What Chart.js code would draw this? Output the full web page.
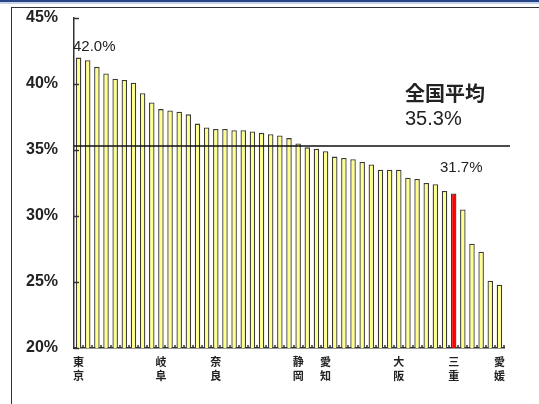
<!DOCTYPE html>
<html>
<head>
<meta charset="utf-8">
<script src="https://cdn.jsdelivr.net/npm/chart.js@4/dist/chart.umd.min.js"></script>
<style>
  html, body { margin: 0; padding: 0; background: #fff; }
  #wrap { position: relative; width: 539px; height: 404px; overflow: hidden; }
  /* marco de la diapositiva */
  #banda { position: absolute; left: 0; top: 0; width: 539px; height: 2px; background: #27458a; }
  #banda2 { position: absolute; left: 0; top: 2px; width: 539px; height: 2px; background: #c9d3e6; }
  #marco { position: absolute; left: 11px; top: 7px; width: 540px; height: 410px;
           border-left: 1.5px solid #333; border-top: 1.5px solid #333; }
  canvas { position: absolute; left: 0; top: 0; }
</style>
</head>
<body>
<div id="wrap">
  <div id="banda"></div>
  <div id="banda2"></div>
  <div id="marco"></div>
  <canvas id="myChart" width="539" height="404"></canvas>
</div>
<script>
// prefecturas ordenadas de mayor a menor
var etiquetas = [
  ['東','京'], '', '', '', '', '', '', '', '', ['岐','阜'],
  '', '', '', '', '', ['奈','良'], '', '', '', '',
  '', '', '', '', ['静','岡'], '', '', ['愛','知'], '', '',
  '', '', '', '', '', ['大','阪'], '', '', '', '',
  '', ['三','重'], '', '', '', '', ['愛','媛']
];
var valores = [
  42.0, 41.8, 41.3, 40.8, 40.4, 40.3, 40.1, 39.3, 38.6, 38.1,
  38.0, 37.9, 37.7, 37.0, 36.7, 36.6, 36.6, 36.5, 36.5, 36.4,
  36.3, 36.2, 36.1, 35.9, 35.5, 35.2, 35.1, 34.9, 34.5, 34.4,
  34.3, 34.1, 33.9, 33.5, 33.5, 33.5, 32.9, 32.8, 32.5, 32.4,
  31.9, 31.7, 30.5, 27.9, 27.3, 25.1, 24.8
];
var promedio = 35.3;      // 全国平均
var marcado = 41;         // 三重
var ticksY = [20, 25, 30, 35, 40, 45];

var colores = valores.map(function(v, i) { return i == marcado ? '#ff0000' : '#ffff8c'; });

// linea del promedio, marcas interiores y textos
var extras = {
  id: 'extras',
  afterDatasetsDraw: function(chart) {
    var ctx = chart.ctx;
    var a = chart.chartArea;
    var y = chart.scales.y;
    ctx.save();
    ctx.strokeStyle = '#333';
    ctx.lineWidth = 1.5;
    ticksY.forEach(function(t) {
      var py = Math.round(y.getPixelForValue(t)) + 0.5;
      ctx.beginPath(); ctx.moveTo(a.left, py); ctx.lineTo(a.left + 5, py); ctx.stroke();
    });
    for (var i = 1; i <= valores.length; i++) {
      var px = Math.round(a.left + (a.right - a.left) * i / valores.length);
      ctx.beginPath(); ctx.moveTo(px, a.bottom); ctx.lineTo(px, a.bottom - 3); ctx.stroke();
    }
    var py = y.getPixelForValue(promedio);
    ctx.strokeStyle = '#111';
    ctx.lineWidth = 1.6;
    ctx.beginPath(); ctx.moveTo(a.left, py); ctx.lineTo(a.right + 6, py); ctx.stroke();

    ctx.fillStyle = '#222';
    ctx.textBaseline = 'alphabetic';
    ctx.font = '15px "Liberation Sans", Arial, sans-serif';
    ctx.fillText(valores[0].toFixed(1) + '%', a.left - 1, 51);
    ctx.font = 'bold 20px "Noto Sans CJK JP", sans-serif';
    ctx.fillText('全国平均', 405, 101);
    ctx.font = '20px "Liberation Sans", Arial, sans-serif';
    ctx.fillText(promedio.toFixed(1) + '%', 405, 125);
    ctx.font = '15px "Liberation Sans", Arial, sans-serif';
    ctx.fillText(valores[marcado].toFixed(1) + '%', 440, 172);
    ctx.restore();
  }
};

var ctx = document.getElementById('myChart').getContext('2d');
var myChart = new Chart(ctx, {
  type: 'bar',
  data: {
    labels: etiquetas,
    datasets: [{
      data: valores,
      backgroundColor: colores,
      borderColor: '#3a3a3a',
      borderWidth: 1.3,
      barPercentage: 0.6,
      categoryPercentage: 1.0
    }]
  },
  options: {
    responsive: false,
    animation: false,
    layout: { padding: { left: 0, top: 18, right: 35, bottom: 0 } },
    plugins: { legend: { display: false }, tooltip: { enabled: false } },
    scales: {
      x: {
        grid: { display: false, drawTicks: false },
        border: { display: true, color: '#333', width: 1.5 },
        ticks: {
          autoSkip: false, maxRotation: 0, minRotation: 0, padding: 6,
          color: '#222',
          font: { family: '"Noto Sans CJK JP", sans-serif', size: 11, weight: 'bold', lineHeight: 1.35 }
        },
        afterFit: function(s) { s.height = 56; s.paddingLeft = 0; s.paddingRight = 0; }
      },
      y: {
        min: 20, max: 45,
        grid: { display: false, drawTicks: false },
        border: { display: true, color: '#333', width: 1.5 },
        ticks: {
          stepSize: 5, padding: 16, color: '#222',
          font: { family: '"Liberation Sans", Arial, sans-serif', size: 16, weight: 'bold' },
          callback: function(v) { return v + '%'; }
        },
        afterFit: function(s) { s.width = 74; s.paddingTop = 0; s.paddingBottom = 0; }
      }
    }
  },
  plugins: [extras]
});
</script>
</body>
</html>
